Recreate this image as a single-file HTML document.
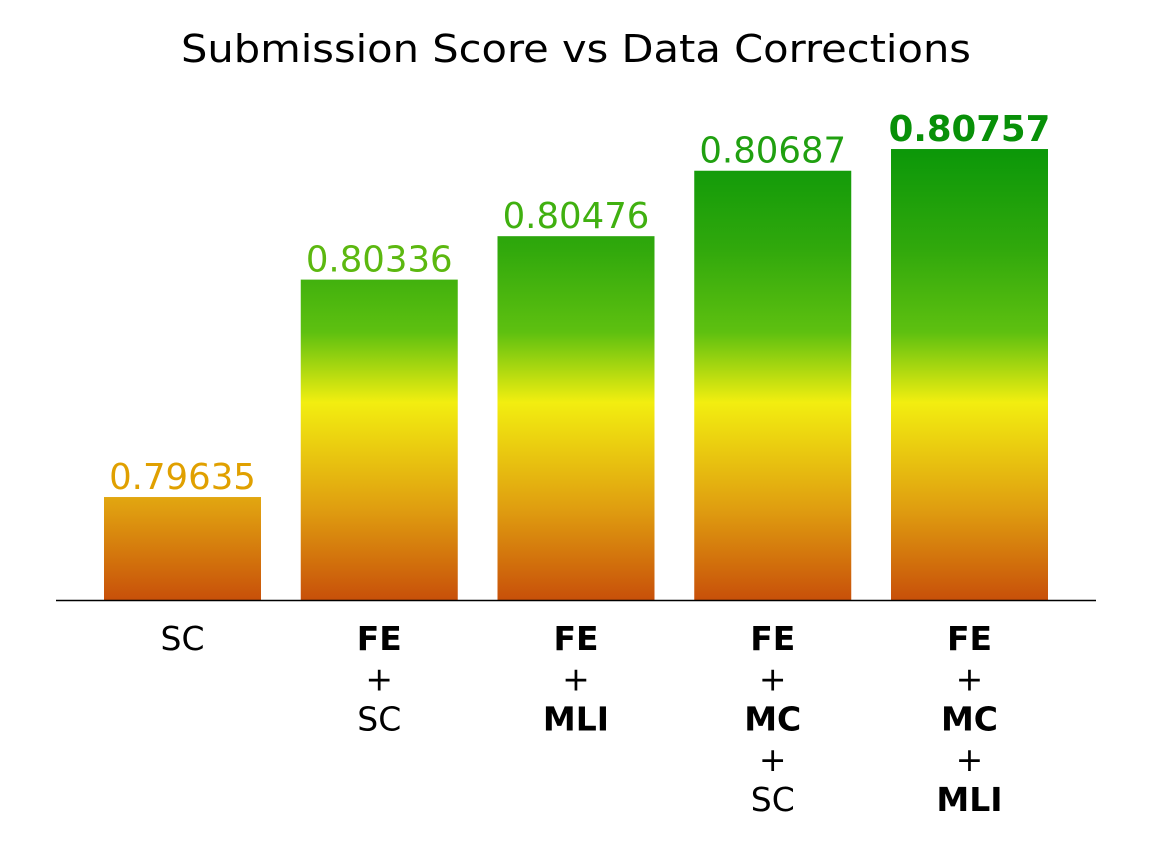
<!DOCTYPE html>
<html><head><meta charset="utf-8">
<style>
html,body{margin:0;padding:0;background:#fff;}
svg{display:block;font-family:"DejaVu Sans","Liberation Sans",sans-serif;}
</style></head>
<body>
<svg id="chart" width="1152" height="848" viewBox="0 0 1152 848" xmlns="http://www.w3.org/2000/svg">
<defs>
<linearGradient id="grad" gradientUnits="userSpaceOnUse" x1="0" y1="600" x2="0" y2="130">
<stop offset="0" stop-color="#c8500a"/>
<stop offset="0.2" stop-color="#e0a010"/>
<stop offset="0.42" stop-color="#f2ee10"/>
<stop offset="0.57" stop-color="#5ec010"/>
<stop offset="0.75" stop-color="#30a80c"/>
<stop offset="1" stop-color="#049408"/>
</linearGradient>
</defs>
<text x="576" y="62" text-anchor="middle" font-size="38" fill="#000" textLength="790" lengthAdjust="spacingAndGlyphs">Submission Score vs Data Corrections</text>
<g id="bars"></g>
<line x1="56" y1="600.5" x2="1096" y2="600.5" stroke="#000" stroke-width="1.5"/>
<g id="ticks"></g>
</svg>
<script>
const categories = [
  [["SC",false]],
  [["FE",true],["+",false],["SC",false]],
  [["FE",true],["+",false],["MLI",true]],
  [["FE",true],["+",false],["MC",true],["+",false],["SC",false]],
  [["FE",true],["+",false],["MC",true],["+",false],["MLI",true]]
];
const scores = [0.79635, 0.80336, 0.80476, 0.80687, 0.80757];
const labelColors = ["#e0a000","#5cb810","#40b010","#20a010","#089008"];

const baseVal = 0.79303, pxPerUnit = 31016, baseY = 600;
function yScale(v){ return baseY - (v - baseVal) * pxPerUnit; }
function xScale(i){ return 104 + i * 196.75; }
const barW = 157;
const NS = "http://www.w3.org/2000/svg";
const gb = document.getElementById("bars"), gt = document.getElementById("ticks");
const maxIdx = scores.indexOf(Math.max(...scores));
scores.forEach((v,i)=>{
  const y = yScale(v);
  const r = document.createElementNS(NS,"rect");
  r.setAttribute("x", xScale(i)); r.setAttribute("y", y);
  r.setAttribute("width", barW); r.setAttribute("height", baseY - y);
  r.setAttribute("fill","url(#grad)");
  
  
  gb.appendChild(r);
  const t = document.createElementNS(NS,"text");
  t.setAttribute("x", xScale(i)+barW/2); t.setAttribute("y", y-8);
  t.setAttribute("text-anchor","middle"); t.setAttribute("font-size","35.5");
  t.setAttribute("fill", labelColors[i]);
  if(i===maxIdx) t.setAttribute("font-weight","bold");
  t.textContent = v.toFixed(5);
  
  
  gb.appendChild(t);
  categories[i].forEach((ln,j)=>{
    const tt = document.createElementNS(NS,"text");
    tt.setAttribute("x", xScale(i)+barW/2); tt.setAttribute("y", 650 + j*40.25);
    tt.setAttribute("text-anchor","middle"); tt.setAttribute("font-size","33");
    if(ln[1]) tt.setAttribute("font-weight","bold");
    tt.textContent = ln[0];
    
    
    gt.appendChild(tt);
  });
});
</script>
</body></html>
